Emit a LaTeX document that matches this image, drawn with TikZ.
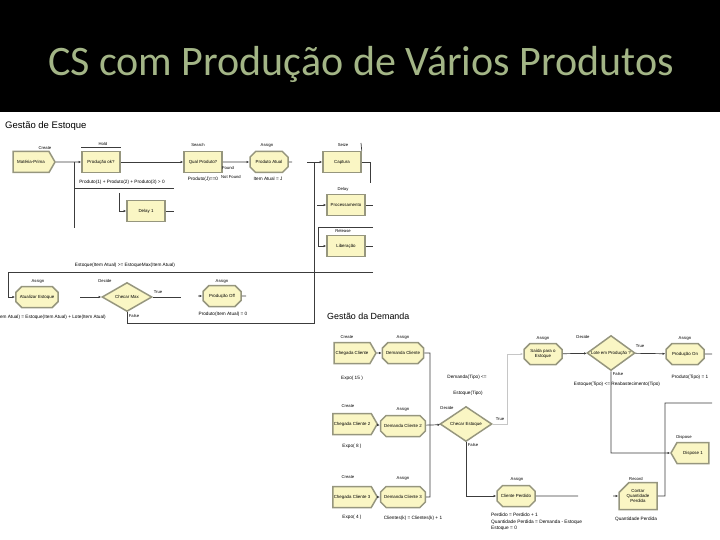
\documentclass[tikz,border=0pt]{standalone}
\usepackage{fontspec}
\setmainfont{Liberation Sans}
\newfontfamily\titlefont{Carlito}
\usetikzlibrary{shapes.geometric,shapes.misc,shapes.symbols,arrows.meta}
\definecolor{arenayellow}{RGB}{250,246,196}
\definecolor{arenagray}{RGB}{150,150,126}
\definecolor{titlegreen}{RGB}{163,181,134}
\definecolor{linkgray}{RGB}{60,60,60}

\begin{document}
\begin{tikzpicture}[x=1pt,y=-1pt,
  module/.style={fill=arenayellow,draw=arenagray,line width=1.5pt,minimum width=38pt,
    minimum height=21pt,inner sep=1pt,align=center,font=\fontsize{4.4}{5.2}\selectfont},
  procbox/.style={module,rectangle},
  createbox/.style={module,signal,signal to=east,signal pointer angle=120,minimum width=42pt},
  disposebox/.style={module,signal,signal to=west,signal pointer angle=120,minimum width=38pt},
  assignbox/.style={module,chamfered rectangle,chamfered rectangle xsep=3pt,
    chamfered rectangle ysep=3pt},
  recordbox/.style={module,chamfered rectangle,chamfered rectangle corners=north west,
    chamfered rectangle xsep=5pt,chamfered rectangle ysep=5pt,minimum height=27pt},
  decidebox/.style={module,diamond,aspect=1.6,inner sep=0pt},
  tag/.style={font=\fontsize{4.2}{5}\selectfont,inner sep=0pt},
  cond/.style={font=\fontsize{4.7}{5.6}\selectfont,inner sep=0pt},
  head/.style={font=\fontsize{9.5}{11}\selectfont,anchor=base west,inner sep=0pt},
  wire/.style={draw=linkgray,line width=0.7pt},
  link/.style={wire,-{Latex[length=2.6pt,width=2.4pt]}},
  faint/.style={draw=gray!45}]
  \useasboundingbox (0,0) rectangle (720,540);
  \clip (0,0) rectangle (720,540);
  % title band
  \fill[black] (0,0) rectangle (720,112);
  \node[font=\titlefont\fontsize{42}{50}\selectfont,text=titlegreen,anchor=base] (title)
    at (361,76) {CS com Produção de Vários Produtos};

  % Gestao de Estoque, top row
  \node[head] (headA) at (5,129) {Gestão de Estoque};
  \node[createbox] (mp) at (31,162) {Matéria-Prima};
  \node[tag] (mpT) at (45,148) {Create};
  \node[procbox] (ok) at (101,162) {Produção ok?};
  \node[tag] (okT) at (103,144) {Hold};
  \node[cond] (okC) at (122,182) {Produto(1) + Produto(2) + Produto(3) > 0};
  \node[procbox] (qual) at (203,162) {Qual Produto?};
  \node[tag] (qualT) at (198,145) {Search};
  \node[cond] (qualC) at (203,179) {Produto(J)==0};
  \node[tag] (qualF) at (228,168) {Found};
  \node[tag] (qualN) at (231,177) {Not Found};
  \node[assignbox] (atual) at (269,162) {Produto Atual};
  \node[tag] (atualT) at (267,145) {Assign};
  \node[cond] (atualC) at (268,179) {Item Atual = J};
  \node[procbox] (cap) at (342,162) {Captura};
  \node[tag] (capT) at (343,145) {Seize};
  \node[procbox] (proc) at (346,205) {Processamento};
  \node[tag] (procT) at (343,189) {Delay};
  \node[procbox] (lib) at (346,246) {Liberação};
  \node[tag] (libT) at (343,231) {Release};
  \node[procbox] (d1) at (146,211) {Delay 1};

  \coordinate (jA) at (74,162);
  \coordinate (jAend) at (74,228);
  \coordinate (hA1) at (74,188);
  \coordinate (hA2) at (174,188);
  \coordinate (dIn) at (119,193);
  \coordinate (dOut) at (174,211);
  \coordinate (atualOut) at (292,162);
  \coordinate (capIn) at (307,162);
  \coordinate (capTick) at (361,143);
  \coordinate (capR) at (370,183);
  \coordinate (procIn) at (317,205);
  \coordinate (procOut) at (373,205);
  \coordinate (libTop) at (373,227);
  \coordinate (libCorner) at (318,227);
  \coordinate (libOut) at (373,246);
  \coordinate (colTop) at (314,162);
  \coordinate (colBot) at (314,323);

  \draw[wire] ([yshift=3pt]ok.north west) -- ([yshift=3pt]ok.north east);
  \draw[link] (mp) -- (ok);
  \draw[wire] (jA) -- (jAend);
  \draw[wire] (hA1) -- (hA2);
  \draw[link] (dIn) |- (d1);
  \draw[wire] (d1) -- (dOut);
  \draw[link] (ok) -- (qual);
  \draw[link] (qual) -- (atual);
  \draw[wire] (atual) -- (atualOut);
  \draw[link] (capIn) -- (cap);
  \draw[wire] (capTick) -- (cap.north east);
  \draw[wire] (cap) -| (capR);
  \draw[link] (procIn) -- (proc);
  \draw[wire] (proc) -- (procOut);
  \draw[link] (libTop) -- (libCorner) |- (lib);
  \draw[wire] (lib) -- (libOut);

  % Gestao de Estoque, bottom row
  \node[cond] (loopC) at (125,265) {Estoque(Item Atual) >= EstoqueMax(Item Atual)};
  \node[assignbox,minimum width=40pt] (upd) at (37,297) {Atualizar Estoque};
  \node[tag] (updT) at (38,281) {Assign};
  \node[cond,anchor=east] (updC) at (106,317)
    {Estoque(Item Atual) = Estoque(Item Atual) + Lote(Item Atual)};
  \node[decidebox,minimum width=50pt,minimum height=29pt] (chk) at (127,297) {Checar Max};
  \node[tag] (chkT) at (105,281) {Decide};
  \node[tag] (chkV) at (158,292) {True};
  \node[tag] (chkF) at (134,316) {False};
  \node[assignbox] (off) at (222,296) {Produção Off};
  \node[tag] (offT) at (222,281) {Assign};
  \node[cond] (offC) at (223,314) {Produto(Item Atual) = 0};

  \coordinate (loopR) at (373,272);
  \coordinate (loopL) at (8,272);
  \coordinate (updOut) at (80,297);
  \coordinate (chkOut) at (181,297);
  \coordinate (offIn) at (198,296);
  \coordinate (offOut) at (246,296);

  \draw[link] (loopR) -- (loopL) |- (upd);
  \draw[link] (updOut) -- (chk);
  \draw[wire] (chk) -- (chkOut);
  \draw[link] (offIn) -- (off);
  \draw[wire] (off) -- (offOut);
  \draw[wire] (chk.south) |- (colBot) -- (colTop);

  % Gestao da Demanda, three arrivals
  \node[head,font=\fontsize{8.9}{11}\selectfont] (headB) at (327,319) {Gestão da Demanda};
  \node[createbox] (ch1) at (352,353) {Chegada Cliente};
  \node[tag] (ch1T) at (347,337) {Create};
  \node[cond] (ch1C) at (352,378) {Expo( 15 )};
  \node[assignbox] (dc1) at (403,353) {Demanda Cliente};
  \node[tag] (dc1T) at (403,337) {Assign};
  \node[createbox] (ch2) at (352,424) {Chegada Cliente 2};
  \node[tag] (ch2T) at (348,406) {Create};
  \node[cond] (ch2C) at (352,446) {Expo( 8 )};
  \node[assignbox] (dc2) at (403,426) {Demanda Cliente 2};
  \node[tag] (dc2T) at (403,409) {Assign};
  \node[createbox] (ch3) at (352,497) {Chegada Cliente 3};
  \node[tag] (ch3T) at (348,477) {Create};
  \node[cond] (ch3C) at (352,517) {Expo( 4 )};
  \node[assignbox] (dc3) at (403,497) {Demanda Cliente 3};
  \node[tag] (dc3T) at (403,478) {Assign};
  \node[cond] (dc3C) at (413,518) {Clientes(k) = Clientes(k) + 1};

  \coordinate (busTop) at (430,353);
  \coordinate (busMid) at (430,425);
  \coordinate (busBot) at (430,497);

  \draw[link] (ch1) -- (dc1);
  \draw[link] (ch2) -- (dc2);
  \draw[link] (ch3) -- (dc3);
  \draw[wire] (dc1) -- (busTop) -- (busBot) -- (dc3);
  \draw[wire] (dc2) -- (busMid);

  % Gestao da Demanda, decisions
  \node[cond] (demC1) at (467,377) {Demanda(Tipo) <=};
  \node[cond] (demC2) at (468,393) {Estoque(Tipo)};
  \node[decidebox,minimum width=52pt,minimum height=35pt] (chE) at (466,424) {Checar Estoque};
  \node[tag] (chET) at (447,408) {Decide};
  \node[tag] (chEV) at (500,419) {True};
  \node[tag] (chEF) at (473,445) {False};
  \node[assignbox] (lost) at (516,496) {Cliente Perdido};
  \node[tag] (lostT) at (517,479) {Assign};
  \node[cond,anchor=north west,align=left,font=\fontsize{4.8}{6.6}\selectfont] (lostC)
    at (491,513) {Perdido = Perdido + 1\\Quantidade Perdida = Demanda - Estoque\\Estoque = 0};
  \node[recordbox] (rec) at (638,496) {Contar\\Quantidade\\Perdida};
  \node[tag] (recT) at (636,479) {Record};
  \node[cond] (recC) at (636,519) {Quantidade Perdida};
  \node[assignbox] (out) at (543,354) {Saída para o\\Estoque};
  \node[tag] (outT) at (543,338) {Assign};
  \node[decidebox,minimum width=48pt,minimum height=35pt] (dec2) at (611,353) {Lote em Produção ?};
  \node[tag] (dec2T) at (583,337) {Decide};
  \node[tag] (dec2V) at (640,346) {True};
  \node[tag] (dec2F) at (618,374) {False};
  \node[cond] (dec2C) at (617,384) {Estoque(Tipo) <= Reabastecimento(Tipo)};
  \node[assignbox] (on) at (685,354) {Produção On};
  \node[tag] (onT) at (685,338) {Assign};
  \node[cond] (onC) at (690,377) {Produto(Tipo) = 1};
  \node[disposebox] (disp) at (693,453) {Dispose 1};
  \node[tag] (dispT) at (684,437) {Dispose};

  \coordinate (trueJ) at (507,424);
  \coordinate (lostOut) at (578,496);
  \coordinate (recIn) at (613,496);
  \coordinate (recJ) at (665,496);
  \coordinate (recTop) at (665,403);
  \coordinate (recEnd) at (712,403);
  \coordinate (dispJ) at (611,453);
  \coordinate (onOut) at (712,354);

  \draw[link] (busMid) -- (chE);
  \draw[link,faint] (chE) -- (trueJ) |- (out);
  \draw[link] (chE.south) |- (lost);
  \draw[wire] (lost) -- (lostOut);
  \draw[link] (recIn) -- (rec);
  \draw[wire] (rec) -- (recJ) -- (recTop) -- (recEnd);
  \draw[link] (out) -- (dec2);
  \draw[link] (dec2) -- (on);
  \draw[wire] (on) -- (onOut);
  \draw[link] (dec2.south) -- (dispJ) -- (disp);
\end{tikzpicture}
\end{document}
